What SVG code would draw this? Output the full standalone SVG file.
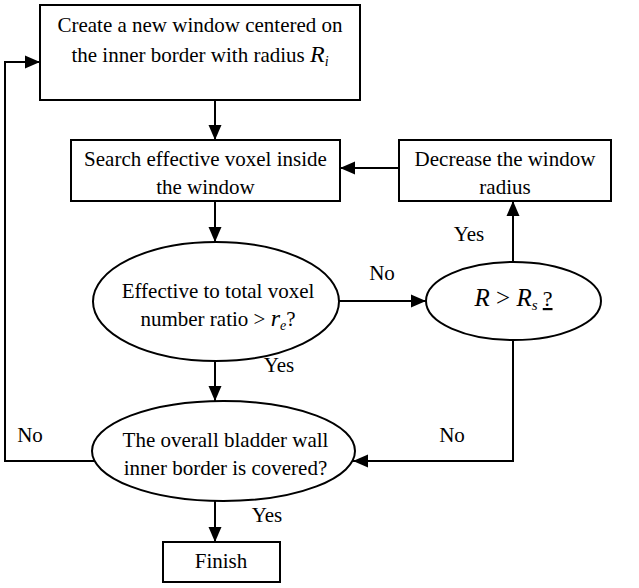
<svg xmlns="http://www.w3.org/2000/svg" width="639" height="588" viewBox="0 0 639 588">
<defs>
<marker id="arr" markerUnits="userSpaceOnUse" markerWidth="16" markerHeight="14" refX="15" refY="7" orient="auto">
<path d="M0,0.5 L15,7 L0,13.5 z" fill="#000"/>
</marker>
</defs>
<style>
.box{fill:#fff;stroke:#000;stroke-width:2}
.t{font-family:"Liberation Serif","Times New Roman",serif;font-size:21px;fill:#000;text-anchor:middle}
.big{font-family:"Liberation Serif","Times New Roman",serif;font-size:25px;fill:#000;text-anchor:middle}
.c{fill:none;stroke:#000;stroke-width:2;marker-end:url(#arr)}
.it{font-style:italic}
</style>
<rect width="639" height="588" fill="#fff"/>
<g id="connectors">
<line class="c" x1="215" y1="100" x2="215" y2="140"/>
<line class="c" x1="215" y1="201" x2="215" y2="242"/>
<line class="c" x1="399" y1="168" x2="340" y2="168"/>
<line class="c" x1="339" y1="301" x2="426" y2="301"/>
<line class="c" x1="513" y1="262" x2="513" y2="201"/>
<line class="c" x1="215" y1="361" x2="215" y2="401"/>
<polyline class="c" points="513,340 513,461 353,461"/>
<polyline class="c" points="95,461 5,461 5,62 40,62"/>
<line class="c" x1="215" y1="501" x2="215" y2="542"/>
<text class="t" x="382" y="280">No</text>
<text class="t" x="469" y="241">Yes</text>
<text class="t" x="279" y="372">Yes</text>
<text class="t" x="30" y="442">No</text>
<text class="t" x="452" y="442">No</text>
<text class="t" x="267" y="522">Yes</text>
</g>
<g id="create">
<rect class="box" x="40" y="5" width="320" height="95"/>
<text class="t" x="200" y="32">Create a new window centered on</text>
<text class="t" x="200" y="62">the inner border with radius <tspan class="it" font-size="24">R</tspan><tspan class="it" font-size="14" dy="4">i</tspan></text>
</g>
<g id="search">
<rect class="box" x="71" y="140" width="269" height="61"/>
<text class="t" x="205.5" y="166">Search effective voxel inside</text>
<text class="t" x="205.5" y="194">the window</text>
</g>
<g id="decrease">
<rect class="box" x="399" y="140" width="212" height="61"/>
<text class="t" x="505" y="166">Decrease the window</text>
<text class="t" x="505" y="194">radius</text>
</g>
<g id="ratio">
<ellipse class="box" cx="216" cy="301.5" rx="123" ry="59.5"/>
<text class="t" x="218" y="298">Effective to total voxel</text>
<text class="t" x="218" y="326">number ratio &gt; <tspan class="it" font-size="24">r</tspan><tspan class="it" font-size="14" dy="4">e</tspan><tspan dy="-4">?</tspan></text>
</g>
<g id="radius">
<ellipse class="box" cx="513.5" cy="301" rx="87.5" ry="39"/>
<text class="big" x="513.5" y="306"><tspan class="it">R</tspan> &gt; <tspan class="it">R</tspan><tspan class="it" font-size="15" dy="4">s</tspan><tspan dy="-4" font-size="21"> </tspan><tspan font-size="22" text-decoration="underline">?</tspan></text>
</g>
<g id="covered">
<ellipse class="box" cx="223.5" cy="451" rx="131.5" ry="50"/>
<text class="t" x="225.5" y="447">The overall bladder wall</text>
<text class="t" x="225.5" y="475">inner border is covered?</text>
</g>
<g id="finish">
<rect class="box" x="163" y="542" width="117" height="40"/>
<text class="t" x="221" y="568">Finish</text>
</g>
</svg>
